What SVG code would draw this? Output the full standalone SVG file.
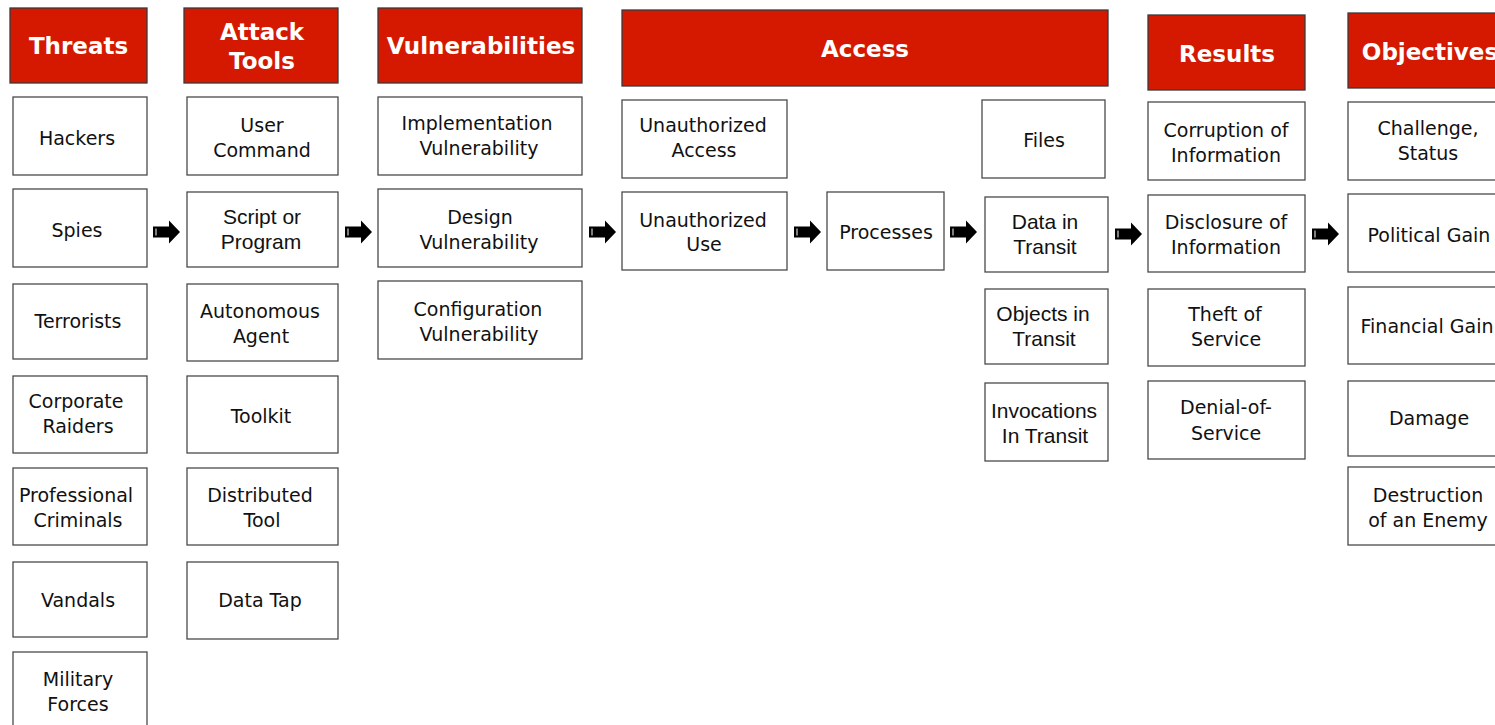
<svg xmlns="http://www.w3.org/2000/svg" width="1495" height="725" viewBox="0 0 1495 725">
<style>
.hd{fill:#d41900;stroke:#3a3a3a;stroke-width:1.3}
.bx{fill:#fff;stroke:#4a4a4a;stroke-width:1.3}
.ht{font-family:"DejaVu Sans",sans-serif;font-weight:bold;font-size:23px;fill:#fff;text-anchor:middle}
.t{font-family:"DejaVu Sans",sans-serif;font-size:19px;fill:#111;text-anchor:middle}
.a{font-family:"Liberation Sans",Arial,sans-serif;font-size:21px;fill:#111;text-anchor:middle}
.ar{fill:#000}
.arl{stroke:#fff;stroke-width:1}
</style>
<rect width="1495" height="725" fill="#fff"/>
<defs>
<g id="arrow"><polygon class="ar" points="0,-5.5 16,-5.5 16,-11.5 27,0 16,11.5 16,5.5 0,5.5"/><line class="arl" x1="3" y1="-3.5" x2="3" y2="3.5"/></g>
</defs>

<g id="h-threats"><rect class="hd" x="10" y="8" width="137" height="75"/><text class="ht" x="78.5" y="54">Threats</text></g>
<g id="h-tools"><rect class="hd" x="184" y="8" width="154" height="75"/><text class="ht" x="262" y="40">Attack</text><text class="ht" x="262" y="69">Tools</text></g>
<g id="h-vuln"><rect class="hd" x="378" y="8" width="204" height="75"/><text class="ht" x="481" y="54">Vulnerabilities</text></g>
<g id="h-access"><rect class="hd" x="622" y="10" width="486" height="76"/><text class="ht" x="865" y="57">Access</text></g>
<g id="h-results"><rect class="hd" x="1148" y="15" width="157" height="75"/><text class="ht" x="1227" y="62">Results</text></g>
<g id="h-objectives"><rect class="hd" x="1348" y="13" width="160" height="75"/><text class="ht" x="1430" y="60">Objectives</text></g>

<g id="hackers"><rect class="bx" x="13" y="97" width="134" height="78"/><text class="t" x="77" y="145">Hackers</text></g>
<g id="spies"><rect class="bx" x="13" y="189" width="134" height="78"/><text class="t" x="77" y="237">Spies</text></g>
<g id="terrorists"><rect class="bx" x="13" y="284" width="134" height="75"/><text class="t" x="78" y="328">Terrorists</text></g>
<g id="raiders"><rect class="bx" x="13" y="376" width="134" height="77"/><text class="t" x="76" y="408">Corporate</text><text class="t" x="78" y="433">Raiders</text></g>
<g id="criminals"><rect class="bx" x="13" y="468" width="134" height="77"/><text class="t" x="76" y="502">Professional</text><text class="t" x="78" y="527">Criminals</text></g>
<g id="vandals"><rect class="bx" x="13" y="562" width="134" height="75"/><text class="t" x="78" y="607">Vandals</text></g>
<g id="military"><rect class="bx" x="13" y="652" width="134" height="80"/><text class="t" x="78" y="686">Military</text><text class="t" x="78" y="711">Forces</text></g>

<g id="usercmd"><rect class="bx" x="187" y="97" width="151" height="78"/><text class="t" x="262" y="132">User</text><text class="t" x="262" y="157">Command</text></g>
<g id="script"><rect class="bx" x="187" y="192" width="151" height="75"/><text class="a" x="262" y="224">Script or</text><text class="a" x="261" y="249">Program</text></g>
<g id="agent"><rect class="bx" x="187" y="284" width="151" height="77"/><text class="t" x="260" y="318">Autonomous</text><text class="t" x="261" y="343">Agent</text></g>
<g id="toolkit"><rect class="bx" x="187" y="376" width="151" height="77"/><text class="t" x="261" y="423">Toolkit</text></g>
<g id="distributed"><rect class="bx" x="187" y="468" width="151" height="77"/><text class="t" x="260" y="502">Distributed</text><text class="t" x="262" y="527">Tool</text></g>
<g id="datatap"><rect class="bx" x="187" y="562" width="151" height="77"/><text class="t" x="260" y="607">Data Tap</text></g>

<g id="impl"><rect class="bx" x="378" y="97" width="204" height="78"/><text class="t" x="477" y="130">Implementation</text><text class="t" x="479" y="155">Vulnerability</text></g>
<g id="design"><rect class="bx" x="378" y="189" width="204" height="78"/><text class="t" x="480" y="224">Design</text><text class="t" x="479" y="249">Vulnerability</text></g>
<g id="config"><rect class="bx" x="378" y="281" width="204" height="78"/><text class="t" x="478" y="316">Configuration</text><text class="t" x="479" y="341">Vulnerability</text></g>

<g id="unauthaccess"><rect class="bx" x="622" y="100" width="165" height="78"/><text class="t" x="703" y="132">Unauthorized</text><text class="t" x="704" y="157">Access</text></g>
<g id="unauthuse"><rect class="bx" x="622" y="192" width="165" height="78"/><text class="t" x="703" y="227">Unauthorized</text><text class="t" x="704" y="251">Use</text></g>
<g id="processes"><rect class="bx" x="827" y="192" width="117" height="78"/><text class="t" x="886" y="239">Processes</text></g>
<g id="files"><rect class="bx" x="982" y="100" width="123" height="78"/><text class="t" x="1044" y="147">Files</text></g>
<g id="datatransit"><rect class="bx" x="985" y="197" width="123" height="75"/><text class="a" x="1045" y="229">Data in</text><text class="a" x="1045" y="254">Transit</text></g>
<g id="objtransit"><rect class="bx" x="985" y="289" width="123" height="75"/><text class="a" x="1043" y="321">Objects in</text><text class="a" x="1044" y="346">Transit</text></g>
<g id="invtransit"><rect class="bx" x="985" y="383" width="123" height="78"/><text class="a" x="1044" y="418">Invocations</text><text class="a" x="1045" y="443">In Transit</text></g>

<g id="corruption"><rect class="bx" x="1148" y="102" width="157" height="78"/><text class="t" x="1226" y="137">Corruption of</text><text class="t" x="1226" y="162">Information</text></g>
<g id="disclosure"><rect class="bx" x="1148" y="195" width="157" height="77"/><text class="t" x="1226" y="229">Disclosure of</text><text class="t" x="1226" y="254">Information</text></g>
<g id="theft"><rect class="bx" x="1148" y="289" width="157" height="77"/><text class="t" x="1225" y="321">Theft of</text><text class="t" x="1226" y="346">Service</text></g>
<g id="denial"><rect class="bx" x="1148" y="381" width="157" height="78"/><text class="t" x="1226" y="414">Denial-of-</text><text class="t" x="1226" y="440">Service</text></g>

<g id="challenge"><rect class="bx" x="1348" y="102" width="160" height="78"/><text class="t" x="1428" y="135">Challenge,</text><text class="t" x="1428" y="160">Status</text></g>
<g id="political"><rect class="bx" x="1348" y="194" width="160" height="78"/><text class="t" x="1429" y="242">Political Gain</text></g>
<g id="financial"><rect class="bx" x="1348" y="287" width="160" height="77"/><text class="t" x="1427" y="333">Financial Gain</text></g>
<g id="damage"><rect class="bx" x="1348" y="381" width="160" height="75"/><text class="t" x="1429" y="425">Damage</text></g>
<g id="destruction"><rect class="bx" x="1348" y="467" width="160" height="78"/><text class="t" x="1428" y="502">Destruction</text><text class="t" x="1428" y="527">of an Enemy</text></g>

<g id="connectors">
<use href="#arrow" x="153" y="232"/>
<use href="#arrow" x="345" y="232"/>
<use href="#arrow" x="589" y="232"/>
<use href="#arrow" x="794" y="232"/>
<use href="#arrow" x="950" y="232"/>
<use href="#arrow" x="1115" y="234"/>
<use href="#arrow" x="1312" y="234"/>
</g>
</svg>
